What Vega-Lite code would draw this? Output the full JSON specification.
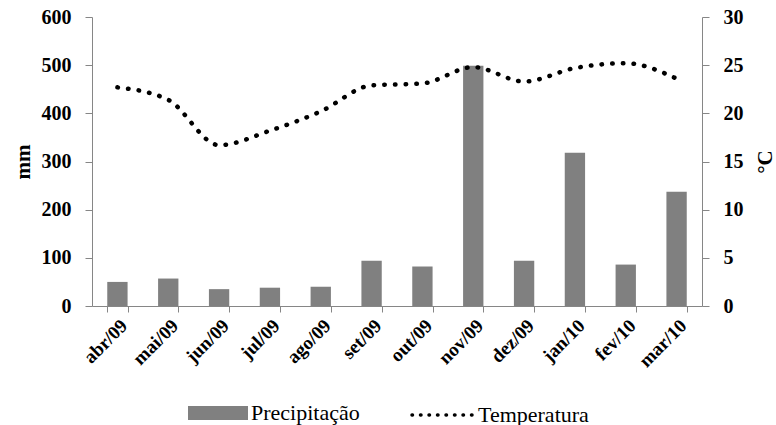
{
  "$schema": "https://vega.github.io/schema/vega-lite/v6.json",
  "width": 610,
  "height": 289,
  "padding": {"left": 12, "top": 7, "right": 0, "bottom": 0},
  "background": "white",
  "config": {
    "view": {"stroke": null},
    "font": "Liberation Serif, Times New Roman, serif",
    "axis": {"labelFont": "Liberation Serif, Times New Roman, serif", "labelFontWeight": "bold", "labelColor": "black", "domainColor": "#868686", "tickColor": "#868686", "grid": false, "titleFont": "Liberation Serif, Times New Roman, serif", "titleColor": "black"},
    "legend": {"labelFont": "Liberation Serif, Times New Roman, serif", "labelFontSize": 22, "labelColor": "black", "labelLimit": 300}
  },
  "data": {
    "values": [
      {"mes": "abr/09", "precip": 50, "temp": 22.7, "p": "Precipitação", "t": "Temperatura"},
      {"mes": "mai/09", "precip": 57, "temp": 21.4, "p": "Precipitação", "t": "Temperatura"},
      {"mes": "jun/09", "precip": 35, "temp": 16.7, "p": "Precipitação", "t": "Temperatura"},
      {"mes": "jul/09", "precip": 38, "temp": 18.2, "p": "Precipitação", "t": "Temperatura"},
      {"mes": "ago/09", "precip": 40, "temp": 20.2, "p": "Precipitação", "t": "Temperatura"},
      {"mes": "set/09", "precip": 94, "temp": 22.9, "p": "Precipitação", "t": "Temperatura"},
      {"mes": "out/09", "precip": 82, "temp": 23.1, "p": "Precipitação", "t": "Temperatura"},
      {"mes": "nov/09", "precip": 499, "temp": 24.8, "p": "Precipitação", "t": "Temperatura"},
      {"mes": "dez/09", "precip": 94, "temp": 23.3, "p": "Precipitação", "t": "Temperatura"},
      {"mes": "jan/10", "precip": 318, "temp": 24.7, "p": "Precipitação", "t": "Temperatura"},
      {"mes": "fev/10", "precip": 86, "temp": 25.2, "p": "Precipitação", "t": "Temperatura"},
      {"mes": "mar/10", "precip": 237, "temp": 23.6, "p": "Precipitação", "t": "Temperatura"}
    ]
  },
  "encoding": {
    "x": {
      "field": "mes", "type": "nominal", "sort": null, "title": null,
      "scale": {"paddingInner": 0.6, "paddingOuter": 0.3},
      "axis": {"labelAngle": -45, "labelAlign": "right", "labelBaseline": "top", "labelFontWeight": "bold", "labelFontSize": 19, "tickBand": "extent", "tickSize": 6, "labelPadding": 4}
    }
  },
  "layer": [
    {
      "mark": {"type": "bar", "stroke": null},
      "encoding": {
        "y": {"field": "precip", "type": "quantitative", "title": "mm",
          "scale": {"domain": [0, 600]},
          "axis": {"orient": "left", "values": [0, 100, 200, 300, 400, 500, 600], "labelFontWeight": "bold", "labelFontSize": 20, "titleFontSize": 21, "titleFontWeight": "bold", "tickSize": 7, "labelPadding": 14, "titlePadding": 8}},
        "fill": {"field": "p", "type": "nominal", "title": null,
          "scale": {"range": ["#808080"]},
          "legend": {"orient": "none", "legendX": 96, "legendY": 366, "symbolType": "M-1,-0.23H1V0.23H-1Z", "symbolSize": 3600, "symbolStrokeWidth": 0, "labelOffset": 3}}
      }
    },
    {
      "mark": {"type": "line", "interpolate": "monotone", "color": "black", "strokeWidth": 4.5, "strokeDash": [0.5, 10.2], "strokeCap": "round"},
      "encoding": {
        "y": {"field": "temp", "type": "quantitative", "title": "°C",
          "scale": {"domain": [0, 30]},
          "axis": {"orient": "right", "values": [0, 5, 10, 15, 20, 25, 30], "labelFontWeight": "bold", "labelFontSize": 20, "titleFontSize": 21, "titleFontWeight": "bold", "titleAngle": 270, "tickSize": 7, "labelPadding": 14, "titlePadding": 32}},
        "stroke": {"field": "t", "type": "nominal", "title": null,
          "scale": {"range": ["black"]},
          "legend": {"orient": "none", "legendX": 318, "legendY": 366, "symbolType": "stroke", "symbolSize": 3600, "symbolStrokeWidth": 3.5, "symbolDash": [0.5, 8], "labelOffset": 4,
            "encode": {"symbols": {"update": {"strokeCap": {"value": "round"}}}}}}
      }
    }
  ],
  "resolve": {"scale": {"y": "independent", "fill": "independent", "stroke": "independent"}}
}
